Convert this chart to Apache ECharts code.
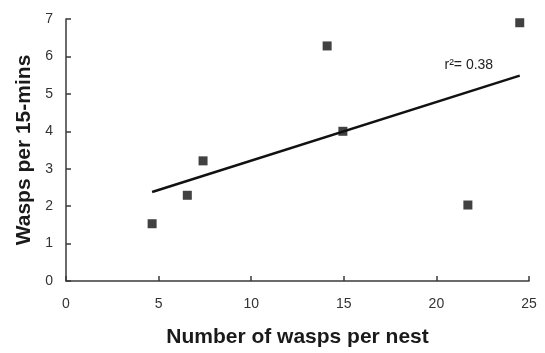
<!DOCTYPE html>
<html>
<head>
<meta charset="utf-8">
<script src="https://cdn.jsdelivr.net/npm/echarts@6/dist/echarts.min.js"></script>
<style>
  html, body { margin: 0; padding: 0; background: #fff; }
  #chart { width: 545px; height: 353px; }
</style>
</head>
<body>
<div id="chart"></div>
<script>
// wasps per nest vs wasps seen per 15 minutes
var nestSize = [4.65, 6.55, 7.4, 14.1, 14.95, 21.7, 24.5]
var waspsPer15 = [1.53, 2.29, 3.21, 6.28, 4.0, 2.03, 6.9]
var xTicks = [0, 25, 5]   // min, max, interval
var yTicks = [0, 7, 1]
var rSquaredLabel = 'r\u00b2= 0.38'

// least squares fit, drawn between the smallest and largest x
function fitLine(xs, ys) {
  var n = xs.length
  var mx = xs.reduce(function(a, b) { return a + b }, 0) / n
  var my = ys.reduce(function(a, b) { return a + b }, 0) / n
  var sxy = 0
  var sxx = 0
  for (var i = 0; i < n; i++) {
    sxy += (xs[i] - mx) * (ys[i] - my)
    sxx += (xs[i] - mx) * (xs[i] - mx)
  }
  var slope = sxy / sxx
  var icpt = my - slope * mx
  var x0 = Math.min.apply(null, xs)
  var x1 = Math.max.apply(null, xs)
  return [[x0, icpt + slope * x0], [x1, icpt + slope * x1]]
}

var points = nestSize.map(function(x, i) { return [x, waspsPer15[i]] })
var font = '"Liberation Sans", Arial, sans-serif'
var axisColor = '#3a3a3a'

var chart = echarts.init(document.getElementById('chart'), null, { renderer: 'canvas' })
chart.setOption({
  animation: false,
  backgroundColor: '#fff',
  grid: {
    left: 66,
    right: 16,
    top: 19,
    bottom: 68
  },
  xAxis: {
    type: 'value',
    min: xTicks[0],
    max: xTicks[1],
    interval: xTicks[2],
    name: 'Number of wasps per nest',
    nameLocation: 'middle',
    nameGap: 46,
    nameTextStyle: {
      fontFamily: font,
      fontSize: 21,
      fontWeight: 'bold',
      color: '#1a1a1a'
    },
    axisLine: { lineStyle: { color: axisColor, width: 1.5 } },
    axisTick: { inside: true, length: 5, lineStyle: { color: axisColor, width: 1.5 } },
    axisLabel: { margin: 16, fontFamily: font, fontSize: 14, color: '#333' },
    splitLine: { show: false }
  },
  yAxis: {
    type: 'value',
    min: yTicks[0],
    max: yTicks[1],
    interval: yTicks[2],
    name: 'Wasps per 15-mins',
    nameLocation: 'middle',
    nameGap: 28,
    nameTextStyle: {
      fontFamily: font,
      fontSize: 21,
      fontWeight: 'bold',
      color: '#1a1a1a'
    },
    axisLine: { show: true, lineStyle: { color: axisColor, width: 1.5 } },
    axisTick: { show: true, inside: true, length: 5, lineStyle: { color: axisColor, width: 1.5 } },
    axisLabel: { margin: 13, fontFamily: font, fontSize: 14, color: '#333' },
    splitLine: { show: false }
  },
  series: [
    {
      name: 'trend',
      type: 'line',
      data: fitLine(nestSize, waspsPer15),
      showSymbol: false,
      lineStyle: { color: '#111', width: 2.5 },
      z: 2,
      markPoint: {
        symbol: 'rect',
        symbolSize: 0,
        data: [{ coord: [21.75, 5.76], value: rSquaredLabel }],
        label: {
          show: true,
          position: 'inside',
          formatter: rSquaredLabel,
          fontFamily: font,
          fontSize: 14,
          color: '#222'
        }
      }
    },
    {
      name: 'nests',
      type: 'scatter',
      data: points,
      symbol: 'rect',
      symbolSize: 9,
      itemStyle: { color: '#111' },
      z: 3
    }
  ]
})
</script>
</body>
</html>
